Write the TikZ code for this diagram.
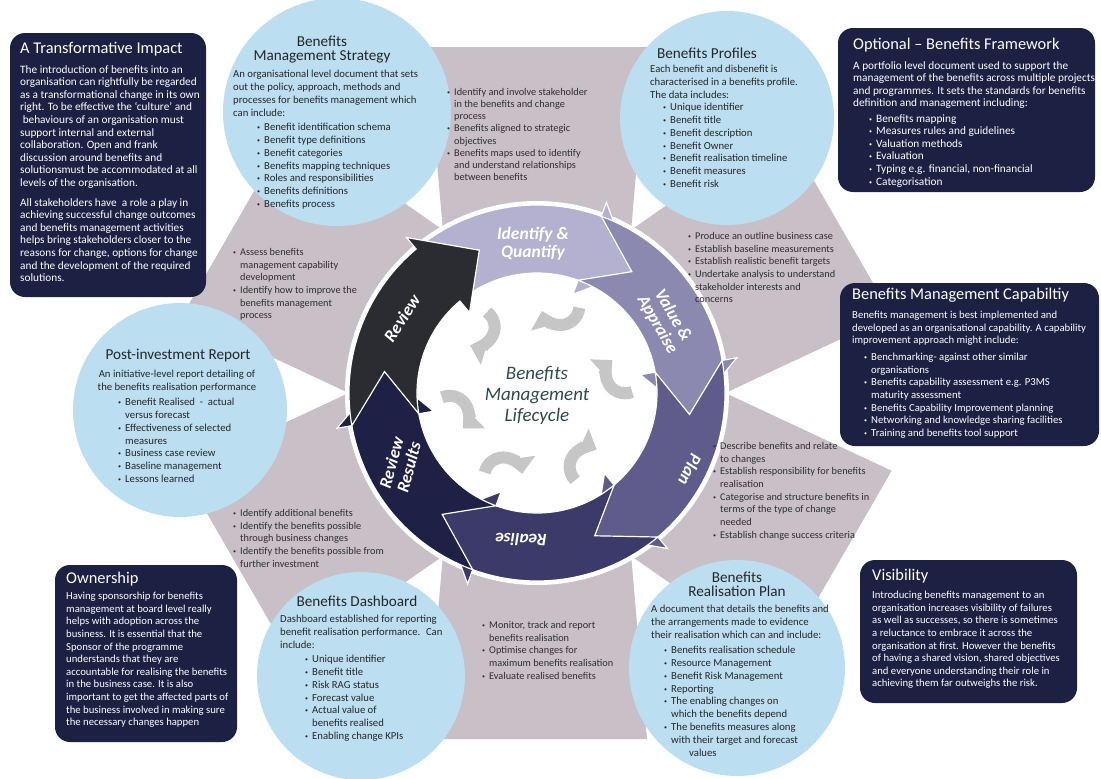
\documentclass[tikz,border=0pt]{standalone}
\usepackage{fontspec}
\setmainfont{Carlito}
\usetikzlibrary{arrows.meta}

\definecolor{navybox}{HTML}{1C2143}
\definecolor{circblue}{HTML}{BCDEF1}
\definecolor{panelgray}{HTML}{C8C0C6}
\definecolor{txtgray}{HTML}{2E2E2E}
\definecolor{idcol}{HTML}{B3B1CF}
\definecolor{valcol}{HTML}{8C89B1}
\definecolor{plancol}{HTML}{5F5C8C}
\definecolor{realcol}{HTML}{3B3A68}
\definecolor{rrcol}{HTML}{1E2045}
\definecolor{revcol}{HTML}{2A2C31}
\definecolor{innergray}{HTML}{C6C6C6}
\definecolor{centrecol}{HTML}{2E4A50}

\newcommand\bu{\makebox[7pt][l]{\fontsize{6}{6}\selectfont\raisebox{0.35ex}{\textbullet}}}
\newcommand\nb{\hspace*{7pt}}

\tikzset{
  darkbox/.style={fill=navybox, rounded corners=15pt},
  bluecirc/.style={fill=circblue},
  boxtitle/.style={text=white, font=\fontsize{16.4}{17}\selectfont, anchor=north west, inner sep=0pt},
  boxtext/.style={text=white, font=\fontsize{10.7}{12.6}\selectfont, align=left, anchor=north west, inner sep=0pt},
  bigboxtext/.style={boxtext, font=\fontsize{11.3}{12.6}\selectfont},
  ctitle/.style={text=black!85, font=\fontsize{15.2}{14}\selectfont, align=center, anchor=north, inner sep=0pt},
  ctext/.style={text=black!85, font=\fontsize{10.7}{12.8}\selectfont, align=left, anchor=north west, inner sep=0pt},
  ptext/.style={text=txtgray, font=\fontsize{10.3}{12.7}\selectfont, align=left, anchor=north west, inner sep=0pt},
  arrlabel/.style={text=white, font=\fontsize{17.5}{18}\selectfont\bfseries\itshape, align=center, inner sep=0pt},
  centre/.style={text=centrecol, font=\fontsize{19}{21}\selectfont\itshape, align=center, inner sep=0pt},
  inarrow/.style={draw=innergray, line width=12pt, -{Triangle[width=30pt,length=16pt]}},
}

\begin{document}
\begin{tikzpicture}[x=1pt, y=-1pt]
	\useasboundingbox (0,0) rectangle (1101,779);
	\fill[white] (0,0) rectangle (1101,779);

	% grey panels and the lifecycle ring
	\begin{scope}[shift={(537,393)}, y=1pt]
		\foreach \a in {90,30,-30,-90,-150,150}
			\fill[panelgray, rotate=\a-90] (-110,346) -- (110,346) -- (80,0) -- (-80,0) -- cycle;
	\end{scope}

	\fill[bluecirc] (337,112) circle[radius=114];
	\fill[bluecirc] (727,118) circle[radius=107];
	\fill[bluecirc] (180,410) circle[radius=107];
	\fill[bluecirc] (361,676) circle[radius=104];
	\fill[bluecirc] (737,668) circle[radius=108];

	\begin{scope}[shift={(537,393)}, y=1pt]
		\fill[white] (0,0) circle[radius=192];
		\foreach \A/\col in {130/idcol, 70/valcol, 10/plancol, -50/realcol, -110/rrcol, -170/revcol} {
			\pgfmathsetmacro\B{\A-60}
			\pgfmathsetmacro\T{\A-78}
			\pgfmathsetmacro\N{\A-18}
			\filldraw[fill=\col, draw=white, line width=1.2pt]
				(\A:188) arc[start angle=\A, end angle=\B, radius=188]
				-- (\B:203) -- (\T:154) -- (\B:105) -- (\B:120)
				arc[start angle=\B, end angle=\A, radius=120] -- (\N:154) -- cycle;
		}
		\foreach \p in {133,75,12,-55,-112,194} {
			\pgfmathsetmacro\s{\p-80}
			\pgfmathsetmacro\e{\p-240}
			\draw[inarrow] (\p:90) ++(\s:19) arc[start angle=\s, end angle=\e, radius=19];
		}
		\node[arrlabel] (lidq) at (-4,149) {Identify \&\\Quantify};
		\node[arrlabel, rotate=-60] (lval) at (128,73) {Value \&\\Appraise};
		\node[arrlabel, rotate=-116] (lplan) at (153,-77) {Plan};
		\node[arrlabel, rotate=178] (lreal) at (-16,-147) {Realise};
		\node[arrlabel, rotate=75] (lrr) at (-137,-72) {Review\\Results};
		\node[arrlabel, rotate=57] (lrev) at (-135,75) {Review};
		\node[centre] (lcycle) at (0,-2) {Benefits\\Management\\Lifecycle};
	\end{scope}

	% dark boxes
	\fill[darkbox] (10,33) rectangle (206,297);
	\fill[darkbox] (838,28) rectangle (1095,192);
	\fill[darkbox] (840,283) rectangle (1099,446);
	\fill[darkbox] (55,565) rectangle (237,742);
	\fill[darkbox] (860,560) rectangle (1077,703);

	\node[boxtitle] (tti) at (20,42) {A Transformative Impact};
	\node[bigboxtext] (bti) at (20,65) {The introduction of benefits into an\\
		organisation can rightfully be regarded\\
		as a transformational change in its own\\
		right. To be effective the `culture' and\\
		\ behaviours of an organisation must\\
		support internal and external\\
		collaboration. Open and frank\\
		discussion around benefits and\\
		solutionsmust be accommodated at all\\
		levels of the organisation.\\[7pt]
		All stakeholders have \ a role a play in\\
		achieving successful change outcomes\\
		and benefits management activities\\
		helps bring stakeholders closer to the\\
		reasons for change, options for change\\
		and the development of the required\\
		solutions.};

	\node[boxtitle] (tof) at (853,38) {Optional -- Benefits Framework};
	\node[bigboxtext] (bof) at (853,61) {A portfolio level document used to support the\\
		management of the benefits across multiple projects\\
		and programmes. It sets the standards for benefits\\
		definition and management including:};
	\node[bigboxtext] (lof) at (869,114) {\bu Benefits mapping\\
		\bu Measures rules and guidelines\\
		\bu Valuation methods\\
		\bu Evaluation\\
		\bu Typing e.g. financial, non-financial\\
		\bu Categorisation};

	\node[boxtitle] (tcap) at (852,288) {Benefits Management Capabiltiy};
	\node[boxtext] (bcap) at (852,311) {Benefits management is best implemented and\\
		developed as an organisational capability. A capability\\
		improvement approach might include:};
	\node[boxtext] (lcap) at (864,353) {\bu Benchmarking- against other similar\\
		\nb organisations\\
		\bu Benefits capability assessment e.g. P3MS\\
		\nb maturity assessment\\
		\bu Benefits Capability Improvement planning\\
		\bu Networking and knowledge sharing facilities\\
		\bu Training and benefits tool support};

	\node[boxtitle] (town) at (66,572) {Ownership};
	\node[boxtext] (bown) at (66,592) {Having sponsorship for benefits\\
		management at board level really\\
		helps with adoption across the\\
		business. It is essential that the\\
		Sponsor of the programme\\
		understands that they are\\
		accountable for realising the benefits\\
		in the business case. It is also\\
		important to get the affected parts of\\
		the business involved in making sure\\
		the necessary changes happen};

	\node[boxtitle] (tvis) at (872,569) {Visibility};
	\node[boxtext] (bvis) at (872,591) {Introducing benefits management to an\\
		organisation increases visibility of failures\\
		as well as successes, so there is sometimes\\
		a reluctance to embrace it across the\\
		organisation at first. However the benefits\\
		of having a shared vision, shared objectives\\
		and everyone understanding their role in\\
		achieving them far outweighs the risk.};

	% circle texts
	\node[ctitle] (tstr) at (322,36) {Benefits\\Management Strategy};
	\node[ctext] (bstr) at (233,70) {An organisational level document that sets\\
		out the policy, approach, methods and\\
		processes for benefits management which\\
		can include:};
	\node[ctext] (lstr) at (257,123) {\bu Benefit identification schema\\
		\bu Benefit type definitions\\
		\bu Benefit categories\\
		\bu Benefits mapping techniques\\
		\bu Roles and responsibilities\\
		\bu Benefits definitions\\
		\bu Benefits process};

	\node[ctitle] (tpro) at (707,48) {Benefits Profiles};
	\node[ctext] (bpro) at (650,65) {Each benefit and disbenefit is\\
		characterised in a benefits profile.\\
		The data includes:};
	\node[ctext] (lpro) at (663,103) {\bu Unique identifier\\
		\bu Benefit title\\
		\bu Benefit description\\
		\bu Benefit Owner\\
		\bu Benefit realisation timeline\\
		\bu Benefit measures\\
		\bu Benefit risk};

	\node[ctitle] (tpir) at (178,349) {Post-investment Report};
	\node[ctext, align=center, anchor=north] (bpir) at (177,370) {An initiative-level report detailing of\\
		the benefits realisation performance};
	\node[ctext] (lpir) at (118,398) {\bu Benefit Realised \ - \ actual\\
		\nb versus forecast\\
		\bu Effectiveness of selected\\
		\nb measures\\
		\bu Business case review\\
		\bu Baseline management\\
		\bu Lessons learned};

	\node[ctitle] (tdash) at (357,596) {Benefits Dashboard};
	\node[ctext] (bdash) at (280,615) {Dashboard established for reporting\\
		benefit realisation performance. \ Can\\
		include:};
	\node[ctext] (ldash) at (305,655) {\bu Unique identifier\\
		\bu Benefit title\\
		\bu Risk RAG status\\
		\bu Forecast value\\
		\bu Actual value of\\
		\nb benefits realised\\
		\bu Enabling change KPIs};

	\node[ctitle] (trp) at (737,572) {Benefits\\Realisation Plan};
	\node[ctext] (brp) at (651,605) {A document that details the benefits and\\
		the arrangements made to evidence\\
		their realisation which can and include:};
	\node[ctext] (lrp) at (664,646) {\bu Benefits realisation schedule\\
		\bu Resource Management\\
		\bu Benefit Risk Management\\
		\bu Reporting\\
		\bu The enabling changes on\\
		\nb which the benefits depend\\
		\bu The benefits measures along\\
		\nb with their target and forecast\\
		\nb\hspace*{18pt}values};

	% panel texts
	\node[ptext, font=\fontsize{10.3}{12.2}\selectfont] (pidq) at (447,88) {\bu Identify and involve stakeholder\\
		\nb in the benefits and change\\
		\nb process\\
		\bu Benefits aligned to strategic\\
		\nb objectives\\
		\bu Benefits maps used to identify\\
		\nb and understand relationships\\
		\nb between benefits};
	\node[ptext] (pval) at (688,232) {\bu Produce an outline business case\\
		\bu Establish baseline measurements\\
		\bu Establish realistic benefit targets\\
		\bu Undertake analysis to understand\\
		\nb stakeholder interests and\\
		\nb concerns};
	\node[ptext] (pplan) at (713,442) {\bu Describe benefits and relate\\
		\nb to changes\\
		\bu Establish responsibility for benefits\\
		\nb realisation\\
		\bu Categorise and structure benefits in\\
		\nb terms of the type of change\\
		\nb needed\\
		\bu Establish change success criteria};
	\node[ptext] (preal) at (482,621) {\bu Monitor, track and report\\
		\nb benefits realisation\\
		\bu Optimise changes for\\
		\nb maximum benefits realisation\\
		\bu Evaluate realised benefits};
	\node[ptext] (prr) at (233,509) {\bu Identify additional benefits\\
		\bu Identify the benefits possible\\
		\nb through business changes\\
		\bu Identify the benefits possible from\\
		\nb further investment};
	\node[ptext] (prev) at (233,248) {\bu Assess benefits\\
		\nb management capability\\
		\nb development\\
		\bu Identify how to improve the\\
		\nb benefits management\\
		\nb process};

\end{tikzpicture}
\end{document}
